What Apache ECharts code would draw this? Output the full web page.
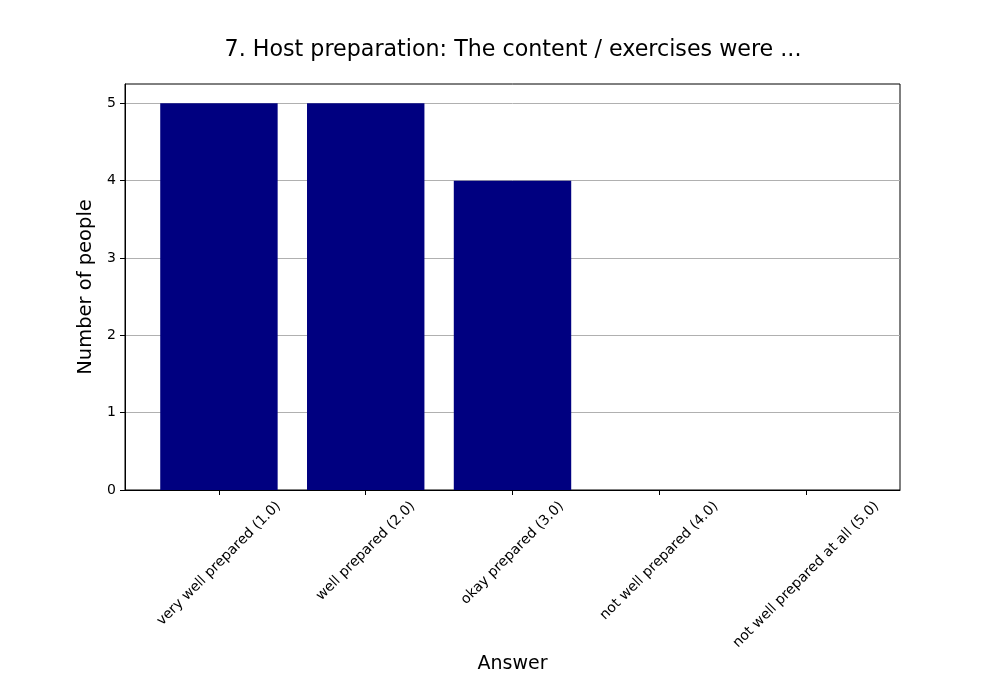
<!DOCTYPE html>
<html>
<head>
<meta charset="utf-8">
<script src="https://cdn.jsdelivr.net/npm/echarts@6/dist/echarts.min.js"></script>
<style>
  html, body { margin: 0; padding: 0; background: #fff; }
  #chart { width: 1000px; height: 700px; }
</style>
</head>
<body>
<div id="chart"></div>
<script>
var categories = [
  'very well prepared (1.0)',
  'well prepared (2.0)',
  'okay prepared (3.0)',
  'not well prepared (4.0)',
  'not well prepared at all (5.0)'
];
var counts = [5, 5, 4, 0, 0];
var yTicks = [0, 1, 2, 3, 4, 5];

var FONT = 'DejaVu Sans';
var xMin = -0.64, xMax = 4.64;
var gridLeft = 125, gridRight = 100;
var pxPerUnit = (1000 - gridLeft - gridRight) / (xMax - xMin);

// matplotlib centres rotated tick labels; echarts anchors them at their end,
// so shift each anchor by half the label's horizontal extent
var ctx = document.createElement('canvas').getContext('2d');
ctx.font = '14px ' + FONT;
var labelPos = categories.map(function (c, i) {
  var w = ctx.measureText(c).width;
  return i + (w * Math.SQRT1_2 / 2) / pxPerUnit;
});
function labelFor(v) {
  var best = 0;
  labelPos.forEach(function (p, i) {
    if (Math.abs(p - v) < Math.abs(labelPos[best] - v)) best = i;
  });
  return categories[best];
}

var myChart = echarts.init(document.getElementById('chart'));
var option = {
  backgroundColor: '#fff',
  animation: false,
  textStyle: { fontFamily: FONT },
  title: {
    text: '7. Host preparation: The content / exercises were ...',
    left: 508, top: 34, textAlign: 'center',
    textStyle: { fontFamily: FONT, fontSize: 22.2, fontWeight: 'normal', color: '#000' }
  },
  grid: {
    left: gridLeft, right: gridRight, top: 84, bottom: 210,
    show: true, borderColor: '#000', borderWidth: 1, containLabel: false
  },
  xAxis: [{
    type: 'value', min: xMin, max: xMax,
    name: 'Answer', nameLocation: 'middle', nameGap: 165,
    nameTextStyle: { fontFamily: FONT, fontSize: 19, color: '#000' },
    axisLine: { show: true, onZero: false, lineStyle: { color: '#000', width: 1 } },
    axisTick: { show: true, length: 5, lineStyle: { color: '#000' }, customValues: [0, 1, 2, 3, 4] },
    axisLabel: { show: false },
    splitLine: { show: false }
  }, {
    type: 'value', min: xMin, max: xMax, position: 'bottom',
    axisLine: { show: false, onZero: false },
    axisTick: { show: false },
    splitLine: { show: false },
    axisLabel: {
      customValues: labelPos,
      rotate: 45, margin: 14,
      fontFamily: FONT, fontSize: 14, color: '#000',
      formatter: function (v) { return labelFor(v); }
    }
  }],
  yAxis: {
    type: 'value', min: 0, max: 5.25, interval: 1,
    name: 'Number of people', nameLocation: 'middle', nameGap: 26,
    nameTextStyle: { fontFamily: FONT, fontSize: 19.5, color: '#000' },
    axisLine: { show: true, onZero: false, lineStyle: { color: '#000', width: 1 } },
    axisTick: { show: true, length: 5, lineStyle: { color: '#000' }, customValues: yTicks },
    axisLabel: {
      margin: 9, fontFamily: FONT, fontSize: 14, color: '#000',
      formatter: function (v) { return yTicks.indexOf(v) >= 0 ? String(v) : ''; }
    },
    splitLine: { show: true, lineStyle: { color: '#b0b0b0', width: 1 } }
  },
  series: [{
    type: 'bar',
    xAxisIndex: 0,
    barWidth: 0.8 * pxPerUnit,
    itemStyle: { color: '#000080' },
    data: counts.map(function (v, i) { return [i, v]; })
  }]
};
myChart.setOption(option);
</script>
</body>
</html>
